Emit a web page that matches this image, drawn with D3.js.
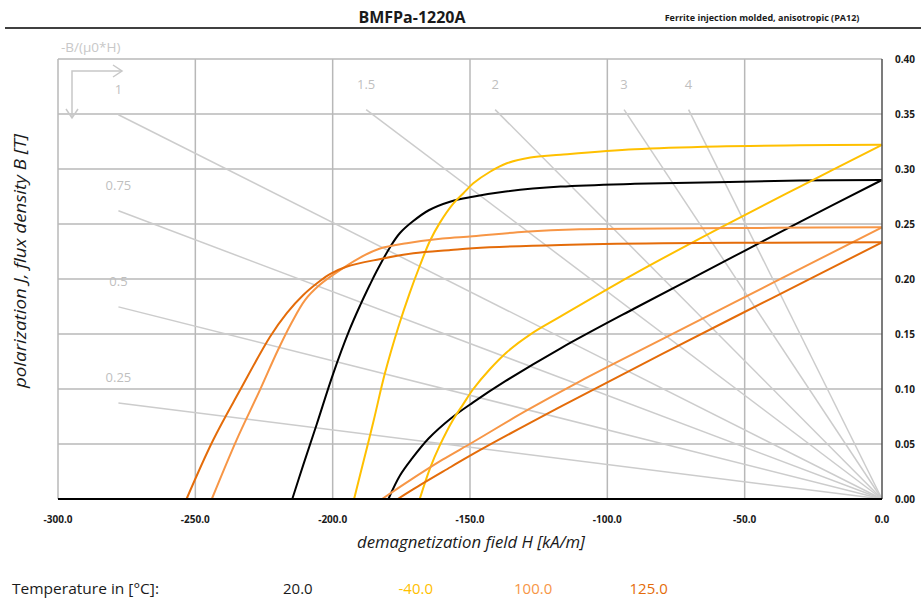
<!DOCTYPE html>
<html>
<head>
<meta charset="utf-8">
<script src="https://cdn.jsdelivr.net/npm/d3@7"></script>
<style>
  body { margin: 0; background: #fff; }
  svg { font-family: "Liberation Sans Narrow", "Open Sans", sans-serif; }
</style>
</head>
<body>
<div id="chart"></div>
<script>
// field H [kA/m], polarization J / flux density B [T]
var hTicks = [-300, -250, -200, -150, -100, -50, 0];
var bTicks = [0, 0.05, 0.10, 0.15, 0.20, 0.25, 0.30, 0.35, 0.40];

// permeance coefficients -B/(mu0*H)
var permeance = [0.25, 0.5, 0.75, 1, 1.5, 2, 3, 4];

var temperatures = ["20.0", "-40.0", "100.0", "125.0"];
var tempColors = ["#000000", "#ffc000", "#f79646", "#e46c0a"];

// 20 °C
var j20 = [[0,0.290],[-30,0.2895],[-60,0.288],[-90,0.2865],[-117,0.284],[-137,0.2795],[-149,0.2748],[-157,0.2705],[-165,0.2625],[-171,0.252],[-175.5,0.2418],[-179,0.2294],[-184,0.207],[-186.5,0.1945],[-190,0.176],[-194,0.153],[-199.8,0.114],[-205.8,0.068],[-210.7,0.031],[-214.7,0]];
var b20 = [[0,0.290],[-30,0.2518],[-60,0.2126],[-90,0.1734],[-117,0.137],[-137,0.1073],[-149,0.0876],[-157,0.0732],[-165,0.0552],[-171,0.0371],[-175.5,0.0213],[-179.7,0]];
// -40 °C
var jm40 = [[0,0.322],[-30,0.3215],[-60,0.3205],[-90,0.318],[-117,0.313],[-128,0.3105],[-136.6,0.3052],[-142.7,0.2975],[-148.8,0.287],[-152.4,0.278],[-156.1,0.2685],[-161,0.251],[-164.6,0.2345],[-168.2,0.2125],[-172,0.187],[-176,0.157],[-181,0.114],[-185.2,0.07],[-190,0.022],[-192.2,0]];
var bm40 = [[0,0.322],[-30,0.2838],[-60,0.2451],[-90,0.2049],[-117,0.166],[-128,0.1497],[-136.6,0.1335],[-142.7,0.1182],[-148.8,0.1000],[-152.4,0.0865],[-156.1,0.0723],[-161,0.0487],[-164.6,0.0277],[-168.3,0]];
// 100 °C
var j100 = [[0,0.247],[-40,0.2465],[-80,0.2458],[-110,0.2452],[-130,0.243],[-149,0.2388],[-160,0.2368],[-173,0.2325],[-183,0.2275],[-190,0.2195],[-200,0.2035],[-205,0.194],[-210,0.181],[-215,0.16],[-220,0.135],[-226.5,0.099],[-235,0.0536],[-244,0]];
var b100 = [[0,0.247],[-40,0.1962],[-80,0.1453],[-110,0.107],[-130,0.0796],[-149,0.0516],[-160,0.0357],[-173,0.0151],[-182,0]];
// 125 °C
var j125 = [[0,0.2333],[-40,0.2330],[-80,0.2325],[-117,0.231],[-149,0.228],[-157,0.2264],[-170.6,0.2234],[-183,0.218],[-195,0.2112],[-201,0.2045],[-205,0.1975],[-210.7,0.1855],[-216.7,0.169],[-222.8,0.1475],[-233.7,0.099],[-243.5,0.0536],[-253.2,0]];
var b125 = [[0,0.2333],[-40,0.1827],[-80,0.132],[-117,0.084],[-149,0.0408],[-157,0.0291],[-170.6,0.009],[-176.3,0]];

var curves = [
  { t: 0, pts: j20 }, { t: 0, pts: b20 },
  { t: 1, pts: jm40 }, { t: 1, pts: bm40 },
  { t: 2, pts: j100 }, { t: 2, pts: b100 },
  { t: 3, pts: j125 }, { t: 3, pts: b125 }
];

var width = 921, height = 599;
var plotLeft = 58, plotRight = 882, plotTop = 59, plotBottom = 499;
var mu0 = 4 * Math.PI * 1e-4; // T per kA/m
var loadHMin = -278, loadBMax = 0.354;

var svg = d3.select("#chart").append("svg")
    .attr("width", width)
    .attr("height", height);

var x = d3.scaleLinear().domain([-300, 0]).range([plotLeft, plotRight]);
var y = d3.scaleLinear().domain([0, 0.40]).range([plotBottom, plotTop]);

// title
svg.append("text")
    .attr("x", 412).attr("y", 23)
    .attr("text-anchor", "middle")
    .style("font-size", "16px").style("font-weight", "bold")
    .style("fill", "#1a1a1a")
    .text("BMFPa-1220A");

svg.append("text")
    .attr("x", 762).attr("y", 21)
    .attr("text-anchor", "middle")
    .style("font-size", "9px").style("font-weight", "bold")
    .style("fill", "#1a1a1a")
    .text("Ferrite injection molded, anisotropic (PA12)");

svg.append("line")
    .attr("x1", 5).attr("x2", width)
    .attr("y1", 28).attr("y2", 28)
    .style("stroke", "#404040").style("stroke-width", 2);

// grid
svg.append("g").selectAll("line")
    .data(hTicks.filter(d => d < 0))
    .join("line")
    .attr("x1", d => x(d)).attr("x2", d => x(d))
    .attr("y1", y(0.40)).attr("y2", y(0))
    .style("stroke", "#b8b8b8").style("stroke-width", 1.5);

svg.append("g").selectAll("line")
    .data(bTicks.filter(d => d > 0))
    .join("line")
    .attr("x1", x(-300)).attr("x2", x(0))
    .attr("y1", d => y(d)).attr("y2", d => y(d))
    .style("stroke", "#b8b8b8").style("stroke-width", 1.5);

// load lines
var loads = permeance.map(function(p) {
  var h0 = Math.max(loadHMin, -loadBMax / (p * mu0));
  return { p: p, h0: h0, b0: -p * mu0 * h0 };
});

svg.append("g").selectAll("line")
    .data(loads)
    .join("line")
    .attr("x1", d => x(d.h0)).attr("y1", d => y(d.b0))
    .attr("x2", x(0)).attr("y2", y(0))
    .style("stroke", "#cccccc").style("stroke-width", 1.5);

svg.append("g").selectAll("text")
    .data(loads)
    .join("text")
    .attr("x", d => x(d.h0))
    .attr("y", d => y(d.b0) - 21)
    .attr("text-anchor", "middle")
    .style("font-size", "13px")
    .style("fill", "#bfbfbf")
    .text(d => d.p);

// -B/(mu0*H) marker
svg.append("text")
    .attr("x", 61).attr("y", 52)
    .style("font-size", "13.5px").style("fill", "#c8c8c8")
    .text("-B/(\u00b50*H)");

var arrow = svg.append("g")
    .style("stroke", "#c8c8c8").style("stroke-width", 1.5).style("fill", "none");
arrow.append("path").attr("d", "M72,118 L72,71 L122,71");
arrow.append("path").attr("d", "M113,65 L122,71 L113,77");
arrow.append("path").attr("d", "M66,109 L72,118 L78,109");

// curves
var line = d3.line()
    .x(d => x(d[0]))
    .y(d => y(d[1]))
    .curve(d3.curveCatmullRom.alpha(0.5));

svg.append("g").selectAll("path")
    .data(curves)
    .join("path")
    .attr("d", d => line(d.pts))
    .style("fill", "none")
    .style("stroke", d => tempColors[d.t])
    .style("stroke-width", 2);

// axes frame
svg.append("line")
    .attr("x1", x(0)).attr("x2", x(0))
    .attr("y1", y(0.40)).attr("y2", y(0))
    .style("stroke", "#505050").style("stroke-width", 1.5);

svg.append("line")
    .attr("x1", x(-300)).attr("x2", x(0))
    .attr("y1", y(0)).attr("y2", y(0))
    .style("stroke", "#000").style("stroke-width", 2);

// tick labels
svg.append("g").selectAll("text")
    .data(hTicks)
    .join("text")
    .attr("x", d => x(d))
    .attr("y", y(0) + 24)
    .attr("text-anchor", "middle")
    .style("font-size", "10px").style("font-weight", "bold")
    .style("fill", "#1a1a1a")
    .text(d => d3.format(".1f")(d).replace("\u2212", "-"));

svg.append("g").selectAll("text")
    .data(bTicks)
    .join("text")
    .attr("x", 895)
    .attr("y", d => y(d) + 4)
    .style("font-size", "10px").style("font-weight", "bold")
    .style("fill", "#1a1a1a")
    .text(d => d3.format(".2f")(d));

// axis titles
svg.append("text")
    .attr("x", 471).attr("y", 548)
    .attr("text-anchor", "middle")
    .attr("textLength", 228).attr("lengthAdjust", "spacingAndGlyphs")
    .style("font-size", "16px").style("font-style", "italic")
    .style("fill", "#1a1a1a")
    .text("demagnetization field H [kA/m]");

svg.append("text")
    .attr("transform", "translate(26,261) rotate(-90)")
    .attr("text-anchor", "middle")
    .attr("textLength", 254).attr("lengthAdjust", "spacingAndGlyphs")
    .style("font-size", "16px").style("font-style", "italic")
    .style("fill", "#1a1a1a")
    .text("polarization J, flux density B [T]");

// legend
svg.append("text")
    .attr("x", 12).attr("y", 594)
    .attr("textLength", 147).attr("lengthAdjust", "spacingAndGlyphs")
    .style("font-size", "15px")
    .style("fill", "#1a1a1a")
    .text("Temperature in [\u00b0C]:");

svg.append("g").selectAll("text")
    .data(temperatures)
    .join("text")
    .attr("x", (d, i) => 283 + i * 115.5)
    .attr("y", 594)
    .style("font-size", "15px")
    .style("fill", (d, i) => i === 0 ? "#1a1a1a" : tempColors[i])
    .text(d => d);
</script>
</body>
</html>
